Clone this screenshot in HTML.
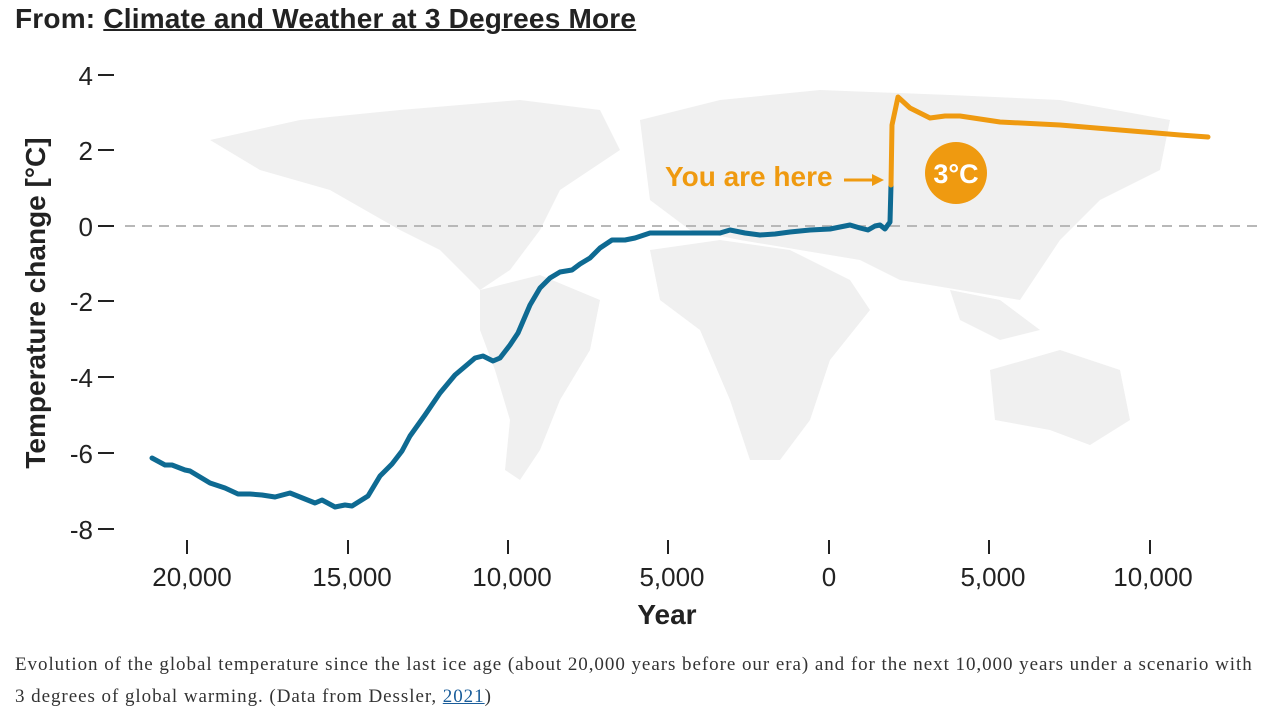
<!DOCTYPE html>
<html><head><meta charset="utf-8"><style>
body{margin:0;background:#fff;width:1274px;height:715px;overflow:hidden;font-family:"Liberation Sans","DejaVu Sans",sans-serif}
.t{position:absolute;left:15px;top:3px;font-size:28px;font-weight:bold;color:#222;letter-spacing:0.2px}
.t u{text-decoration-thickness:2px}
.cap{position:absolute;left:15px;top:649px;font-family:"Liberation Serif",serif;font-size:19px;letter-spacing:0.95px;color:#333;line-height:32px;width:1262px}
.cap a{color:#1a5d9a;text-decoration:underline}
</style></head><body>
<div class="t">From: <u>Climate and Weather at 3 Degrees More</u></div>
<svg width="1274" height="715" style="position:absolute;left:0;top:0;z-index:-1">
<g fill="#f0f0f0">
<path d="M210,140 L300,120 L400,110 L520,100 L600,110 L620,150 L560,190 L540,230 L510,270 L480,290 L440,250 L400,230 L330,190 L260,170Z"/>
<path d="M480,290 L540,275 L600,300 L590,350 L560,400 L540,450 L520,480 L505,470 L510,420 L495,370 L480,330Z"/>
<path d="M640,120 L720,100 L820,90 L950,95 L1060,100 L1170,120 L1160,170 L1100,200 L1060,240 L1020,300 L960,290 L900,280 L860,260 L800,250 L740,240 L690,230 L650,200Z"/>
<path d="M650,250 L720,240 L790,250 L850,280 L870,310 L830,360 L810,420 L780,460 L750,460 L730,400 L700,330 L660,300Z"/>
<path d="M990,370 L1060,350 L1120,370 L1130,420 L1090,445 L1050,430 L995,420Z"/>
<path d="M950,290 L1000,300 L1040,330 L1000,340 L960,320Z"/>
</g>
<line x1="125" y1="226" x2="1262" y2="226" stroke="#b8b8b8" stroke-width="2" stroke-dasharray="10,7"/>
<g font-size="26" fill="#222" text-anchor="end">
<text x="93" y="85">4</text><text x="93" y="160">2</text><text x="93" y="236">0</text>
<text x="93" y="311">-2</text><text x="93" y="387">-4</text><text x="93" y="463">-6</text><text x="93" y="539">-8</text>
</g>
<g stroke="#222" stroke-width="2">
<line x1="98" y1="75" x2="114" y2="75"/><line x1="98" y1="150" x2="114" y2="150"/><line x1="98" y1="226" x2="114" y2="226"/>
<line x1="98" y1="301" x2="114" y2="301"/><line x1="98" y1="377" x2="114" y2="377"/><line x1="98" y1="453" x2="114" y2="453"/><line x1="98" y1="529" x2="114" y2="529"/>
<line x1="187" y1="540" x2="187" y2="554"/><line x1="348" y1="540" x2="348" y2="554"/><line x1="508" y1="540" x2="508" y2="554"/>
<line x1="668" y1="540" x2="668" y2="554"/><line x1="829" y1="540" x2="829" y2="554"/><line x1="989" y1="540" x2="989" y2="554"/><line x1="1150" y1="540" x2="1150" y2="554"/>
</g>
<g font-size="26" fill="#222" text-anchor="middle">
<text x="192" y="586">20,000</text><text x="352" y="586">15,000</text><text x="512" y="586">10,000</text>
<text x="672" y="586">5,000</text><text x="829" y="586">0</text><text x="993" y="586">5,000</text><text x="1153" y="586">10,000</text>
</g>
<text x="667" y="624" font-size="28" font-weight="bold" fill="#222" text-anchor="middle">Year</text>
<text transform="translate(45,303) rotate(-90)" font-size="28" font-weight="bold" fill="#222" text-anchor="middle">Temperature change [°C]</text>
<polyline fill="none" stroke="#0e6a92" stroke-width="5" stroke-linejoin="round" stroke-linecap="round" points="152,458 165,465 172,465 185,470 190,471 200,477 210,483 225,488 238,494 250,494 262,495 275,497 290,493 300,497 315,503 322,500 335,507 345,505 352,506 368,496 380,476 392,464 402,451 410,436 425,415 440,393 455,375 468,364 475,358 483,356 493,361 500,358 510,345 518,333 530,305 540,288 550,278 560,272 572,270 580,264 590,258 600,248 612,240 625,240 635,238 650,233 670,233 680,233 705,233 720,233 730,230 745,233 760,235 775,234 790,232 810,230 830,229 850,225 860,228 868,230 875,226 880,225 885,229 890,222 891,185"/>
<polyline fill="none" stroke="#ef9a10" stroke-width="5" stroke-linejoin="round" stroke-linecap="round" points="891,185 892,125 898,97 910,108 930,118 945,116 960,116 1000,122 1060,125 1120,130 1180,135 1208,137"/>
<text x="665" y="186" font-size="28" font-weight="bold" fill="#ef9a10">You are here</text>
<line x1="844" y1="180" x2="876" y2="180" stroke="#ef9a10" stroke-width="3"/>
<polygon points="884,180 872,174 872,186" fill="#ef9a10"/>
<circle cx="956" cy="173" r="31" fill="#ef9a10"/>
<text x="956" y="183" font-size="27" font-weight="bold" fill="#fff" text-anchor="middle">3°C</text>
</svg>
<div class="cap">Evolution of the global temperature since the last ice age (about 20,000 years before our era) and for the next 10,000 years under a scenario with<br>3 degrees of global warming. (Data from Dessler, <a>2021</a>)</div>
</body></html>
